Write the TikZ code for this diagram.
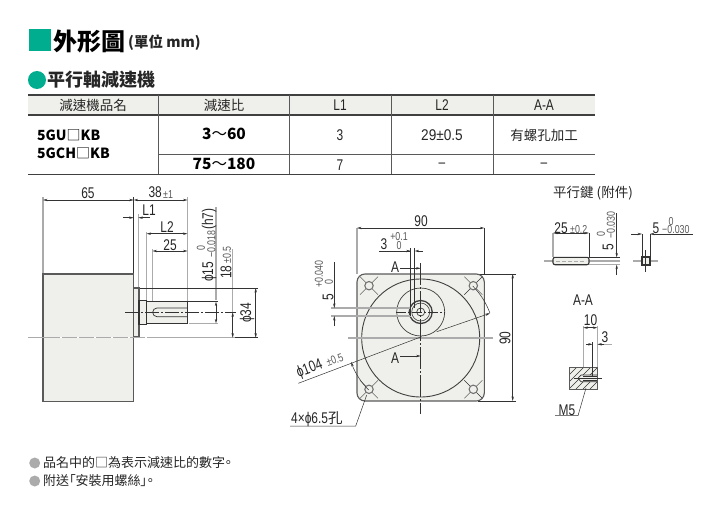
\documentclass[tikz,border=0pt]{standalone}
\usepackage{fontspec}
\usetikzlibrary{arrows.meta}
\setmainfont{Liberation Sans}
\newfontfamily\nar[FakeStretch=0.77]{Liberation Sans}
\newfontfamily\narw[FakeStretch=0.88]{Liberation Sans}
\newfontfamily\cjk{Noto Sans CJK TC}
\newfontfamily\cjkp[RawFeature=+palt]{Noto Sans CJK TC}
\definecolor{grn}{HTML}{00AD8E}
\definecolor{pale}{HTML}{EFEFEB}
\definecolor{ink}{HTML}{333333}
\definecolor{edge}{HTML}{5A5A5A}
\definecolor{gry}{HTML}{ABABAB}
\tikzset{
  T/.style={font=\fontsize{13.5}{14}\cjk,inner sep=0,text=black!85},
  D/.style={font=\fontsize{15.5}{17}\nar,inner sep=0,text=black!85},
  S/.style={font=\fontsize{11.5}{12}\nar,inner sep=0,text=black!65},
  B/.style={inner sep=0,font=\fontsize{14}{15}\cjk\bfseries},
  dimln/.style={draw=ink,line width=.5pt,{Stealth[length=4.5pt,width=2.4pt]}-{Stealth[length=4.5pt,width=2.4pt]}},
  thin1/.style={draw=ink,line width=.5pt},
  tipend/.style={draw=ink,line width=.5pt,-{Stealth[length=4.5pt,width=2.4pt]}},
  extl/.style={draw=gry,line width=1.1pt},
  part/.style={draw=edge,line width=1.1pt,fill=pale},
  major/.style={draw=black!75,line width=.9pt},
  rule/.style={draw=black!75,line width=1.2pt},
  col/.style={draw=black!65,line width=.6pt},
}
\begin{document}
\begin{tikzpicture}[x=1pt,y=-1pt]
\useasboundingbox (0,0) rectangle (722,516);
% heading
\fill[grn] (29,29) rectangle (51,51);
\node[anchor=west,inner sep=0,font=\fontsize{24}{26}\cjk\bfseries] (h1) at (53,41) {外形圖};
\node[anchor=west,inner sep=0,font=\fontsize{14.5}{16}\cjk\bfseries,text=black!85] (h2) at (128,43) {(單位 mm)};
\fill[grn] (37,80) circle (9);
\node[anchor=west,inner sep=0,font=\fontsize{18}{20}\cjk\bfseries,text=black!85] (h3) at (47,80) {平行軸減速機};
% table
\fill[pale] (28,95) rectangle (595,115);
\draw[rule] (28,95) -- (595,95);
\draw[rule] (28,115) -- (595,115);
\draw[rule] (28,174.3) -- (595,174.3);
\draw[col] (158,154.3) -- (595,154.3);
\foreach \cx in {158,289.5,391.3,493} \draw[col] (\cx,95) -- (\cx,174.3);
\node[T] (t1) at (93,105) {減速機品名};
\node[T] (t2) at (224,105) {減速比};
\node[D] (t3) at (340,105) {L1};
\node[D] (t4) at (442,105) {L2};
\node[D] (t5) at (544,105) {A-A};
\node[B,anchor=west] (m1) at (37,135.5) {5GU{\mdseries □}KB};
\node[B,anchor=west] (m2) at (37,153) {5GCH{\mdseries □}KB};
\node[B,font=\fontsize{15.5}{16}\cjk\bfseries] (r1) at (224,134) {3{\mdseries ～}60};
\node[B,font=\fontsize{15.5}{16}\cjk\bfseries] (r2) at (224,164) {75{\mdseries ～}180};
\node[D] (a1) at (340,135) {3};
\node[D] (a2) at (340,165) {7};
\node[D,font=\fontsize{15.5}{17}\narw] (b1) at (442,135) {29±0.5};
\node[T] (c1) at (544,135) {有螺孔加工};
\node[D] (b2) at (442,165) {–};
\node[D] (c2) at (544,165) {–};
% side view
\draw[extl] (43,197) -- (43,274);
\draw[extl] (138.3,214) -- (138.3,288);
\draw[extl] (146.6,232) -- (146.6,300);
\draw[extl] (152.5,249) -- (152.5,307);
\draw[extl] (187.5,197) -- (187.5,301);
\draw[extl] (216,207) -- (216,300);
\draw[extl] (232.7,249) -- (232.7,312);
\draw[thin1] (133.7,197) -- (133.7,274);
\draw[thin1] (139,288) -- (258,288);
\draw[thin1] (187.7,301.7) -- (218,301.7);
\draw[extl] (189,323.3) -- (218,323.3);
\draw[part] (43,274) rectangle (133.7,401.7);
\draw[part] (133.7,288) rectangle (139,336.7);
\draw[extl] (28,337.7) -- (235,337.7);
\draw[thin1] (235,337.7) -- (258,337.7);
\draw[part,draw=black!80] (139,300.7) rectangle (146.6,324.3);
\draw[part,draw=black!80] (146.6,301.7) rectangle (187.7,323.3);
\draw[thin1,line width=.7pt] (187.7,308) -- (157,308) arc[start angle=90,end angle=270,radius=4.35pt] -- (187.7,316.7);
\draw[thin1,dash pattern=on 14pt off 2pt on 2pt off 2pt] (125,312.3) -- (236,312.3);
\draw[white,line width=.8pt,dash pattern=on 2pt off 15pt] (60,337.7) -- (152,337.7);
\draw[dimln] (43,200) -- (133.7,200);
\draw[dimln] (133.7,200) -- (187.5,200);
\draw[tipend] (123,217.7) -- (133.7,217.7);
\draw[tipend] (150,217.7) -- (138.3,217.7);
\draw[dimln] (146.6,233.7) -- (187.5,233.7);
\draw[dimln] (152.5,251) -- (187.5,251);
\draw[dimln] (216,301.7) -- (216,323.3);
\draw[dimln] (232.7,312.3) -- (232.7,337.7);
\draw[dimln] (255.7,288) -- (255.7,337.7);
\node[D] (d65) at (88,193) {65};
\node[D,anchor=east] (d38) at (162,192.5) {38};
\node[S,anchor=west] (d38t) at (163,194.5) {±1};
\node[D] (dL1) at (149,210) {L1};
\node[D] (dL2) at (167,227) {L2};
\node[D] (d25) at (170,245) {25};
\node[D,rotate=90] (p15) at (209,272) {ϕ15};
\node[S,rotate=90] (p15a) at (201,248) {0};
\node[S,rotate=90] (p15b) at (211.5,244) {−0.018};
\node[D,rotate=90] (p15c) at (209,219) {(h7)};
\node[D,rotate=90] (d18) at (226,272) {18};
\node[S,rotate=90] (d18t) at (227,255) {±0.5};
\node[D,rotate=90] (p34) at (247,313) {ϕ34};
% front view
\draw[extl] (357,228) -- (357,274);
\draw[thin1] (484.3,228) -- (484.3,274);
\draw[thin1] (478,274) -- (516,274);
\draw[thin1] (478,401) -- (516,401);
\draw[part,rounded corners=8pt] (357,274) rectangle (484.3,401);
\draw[major] (420.7,338) circle (59);
\draw[major,line width=.7pt] (420.7,312) circle (24);
\draw[major,line width=1.3pt] (420.7,312) circle (11.5);
\draw[major,line width=.6pt] (420.7,312) circle (9);
\draw[major,line width=.7pt] (420.7,312) circle (4);
\foreach \hx/\hy in {369/285.7,473.3/285.7,369/389.3,473.3/389.3}{
  \draw[thin1,line width=.4pt] (\hx-9,\hy-9) -- (\hx+9,\hy+9);
  \draw[thin1,line width=.4pt] (\hx-9,\hy+9) -- (\hx+9,\hy-9);
  \draw[draw=black!55,line width=1.1pt,fill=pale] (\hx,\hy) circle (4.2);
}
\draw[extl] (348,338) -- (493,338);
\draw[thin1,dash pattern=on 22pt off 2pt on 2pt off 2pt] (420.7,263) -- (420.7,414);
\draw[thin1,dash pattern=on 10pt off 2pt on 2pt off 2pt] (396,312) -- (445,312);
\draw[extl] (331,308) -- (411,308);
\draw[extl] (331,316) -- (411,316);
\draw[thin1,line width=.7pt] (410.7,248) -- (410.7,316);
\draw[thin1,line width=.7pt] (414.7,248) -- (414.7,308);
\draw[dimln] (357,228) -- (484.3,228);
\draw[thin1] (379,251) -- (410.7,251);
\draw[tipend] (400,251) -- (410.7,251);
\draw[tipend] (423,251) -- (414.7,251);
\draw[tipend] (334.3,262) -- (334.3,308);
\draw[tipend] (334.3,326) -- (334.3,316);
\draw[tipend] (400,268.3) -- (420.7,268.3);
\draw[thin1] (420.7,265) -- (420.7,272);
\draw[tipend] (400,356) -- (420.7,356);
\draw[thin1] (420.7,352) -- (420.7,360);
\draw[dimln] (512.7,274) -- (512.7,401);
\draw[thin1] (298.3,383.3) -- (421.5,336.7);
\draw[tipend] (436.7,331.7) -- (490,313.3);
\draw[thin1] (472.7,286) arc[start angle=45,end angle=20,radius=73.6pt];
\draw[tipend] (368.7,390) arc[start angle=225,end angle=199,radius=73.6pt];
\draw[thin1] (366.7,395) -- (355.7,426) -- (290,426);
\node[D] (d90a) at (421,221) {90};
\node[D] (d3) at (384,244) {3};
\node[S] (d3a) at (399,237) {+0.1};
\node[S] (d3b) at (399,246) {0};
\node[D] (ha) at (395,267) {A};
\node[D] (hb) at (395,358) {A};
\node[D,rotate=90] (d5) at (328,297) {5};
\node[S,rotate=90] (d5a) at (319,274) {+0.040};
\node[S,rotate=90] (d5b) at (329,282) {0};
\node[D,rotate=90] (d90b) at (505,338) {90};
\node[D,rotate=20.7,anchor=west] (p104) at (297,374) {ϕ104};
\node[S,rotate=20.7,anchor=west] (p104t) at (326.5,363) {±0.5};
\node[D,anchor=west] (holes) at (291,419) {4×ϕ6.5{\cjk\fontsize{14.5}{15}\selectfont 孔}};
% key
\node[anchor=west,inner sep=0,font=\fontsize{13.5}{15}\cjk,text=black!85] (keyt) at (553,193) {平行鍵 (附件)};
\draw[extl] (544,261) -- (620,261);
\draw[extl] (553,233) -- (553,257);
\draw[thin1] (589,233) -- (589,257);
\draw[part,draw=black!80,rounded corners=2pt] (553,257.3) rectangle (589,264.7);
\draw[extl] (589,264.7) -- (620,264.7);
\draw[thin1] (589,257.3) -- (620,257.3);
\draw[extl,line width=.8pt,dash pattern=on 4pt off 2pt] (556,261) -- (586,261);
\draw[dimln] (553,233) -- (589,233);
\draw[tipend] (616.7,213) -- (616.7,257.3);
\draw[tipend] (616.7,275) -- (616.7,264.7);
\node[D] (k25) at (561,228) {25};
\node[S,anchor=west] (k25t) at (570,229.5) {±0.2};
\node[D,rotate=90] (k5) at (608,247) {5};
\node[S,rotate=90] (k5a) at (601,234) {0};
\node[S,rotate=90] (k5b) at (611,225) {−0.030};
\draw[extl] (633,261) -- (658,261);
\draw[thin1,line width=.7pt] (642,234) -- (642,257);
\draw[thin1,line width=.7pt] (650,234) -- (650,257);
\draw[part,draw=black!80] (642,257) rectangle (650,265);
\draw[thin1] (645.7,250) -- (645.7,272);
\draw[tipend] (631,234) -- (642,234);
\draw[tipend] (692.7,234) -- (650,234);
\node[D] (j5) at (656,228) {5};
\node[S] (j5a) at (671,222) {0};
\node[S,anchor=west] (j5b) at (662,229.5) {−0.030};
% section A-A
\node[D] (aa) at (583,300) {A-A};
\begin{scope}
\clip (569,367.3) rectangle (597.3,389);
\fill[pale] (569,367.3) rectangle (597.3,389);
\foreach \q in {0,7,...,56}
  \draw[thin1,line width=.5pt] (569+\q-14,389) -- (569+\q+8,367);
\end{scope}
\fill[pale] (579.3,375) rectangle (597.3,381.7);
\draw[draw=edge,line width=.9pt] (569,367.3) rectangle (597.3,389);
\draw[thin1,line width=.7pt] (597.3,375) -- (581,375) -- (578,378.3) -- (581,381.7) -- (597.3,381.7);
\draw[thin1,line width=.4pt] (583,376.5) -- (597.3,376.5);
\draw[thin1,line width=.4pt] (583,380) -- (597.3,380);
\draw[thin1] (574,378.3) -- (602,378.3);
\draw[extl] (583.3,326) -- (583.3,367);
\draw[extl] (597.3,326) -- (597.3,367);
\draw[dimln] (583.3,327.7) -- (597.3,327.7);
\draw[thin1] (592.6,342) -- (592.6,376);
\draw[tipend] (586,344.3) -- (592.6,344.3);
\draw[tipend] (604,344.3) -- (597.3,344.3);
\draw[extl] (604,344.3) -- (612,344.3);
\node[D] (a10) at (590.5,320) {10};
\node[D] (a3) at (605,337) {3};
\node[D] (am5) at (567,410) {M5};
\draw[thin1] (586,388) -- (578,415.7) -- (555,415.7);
% notes
\fill[gry] (34.7,463) circle (5.5);
\fill[gry] (34.7,481) circle (5.5);
\node[anchor=west,inner sep=0,font=\fontsize{13}{14}\cjkp,text=black!85] (n1) at (43,463) {品名中的□為表示減速比的數字。};
\node[anchor=west,inner sep=0,font=\fontsize{13}{14}\cjkp,text=black!85] (n2) at (43,481) {附送「安裝用螺絲」。};
\end{tikzpicture}
\end{document}
